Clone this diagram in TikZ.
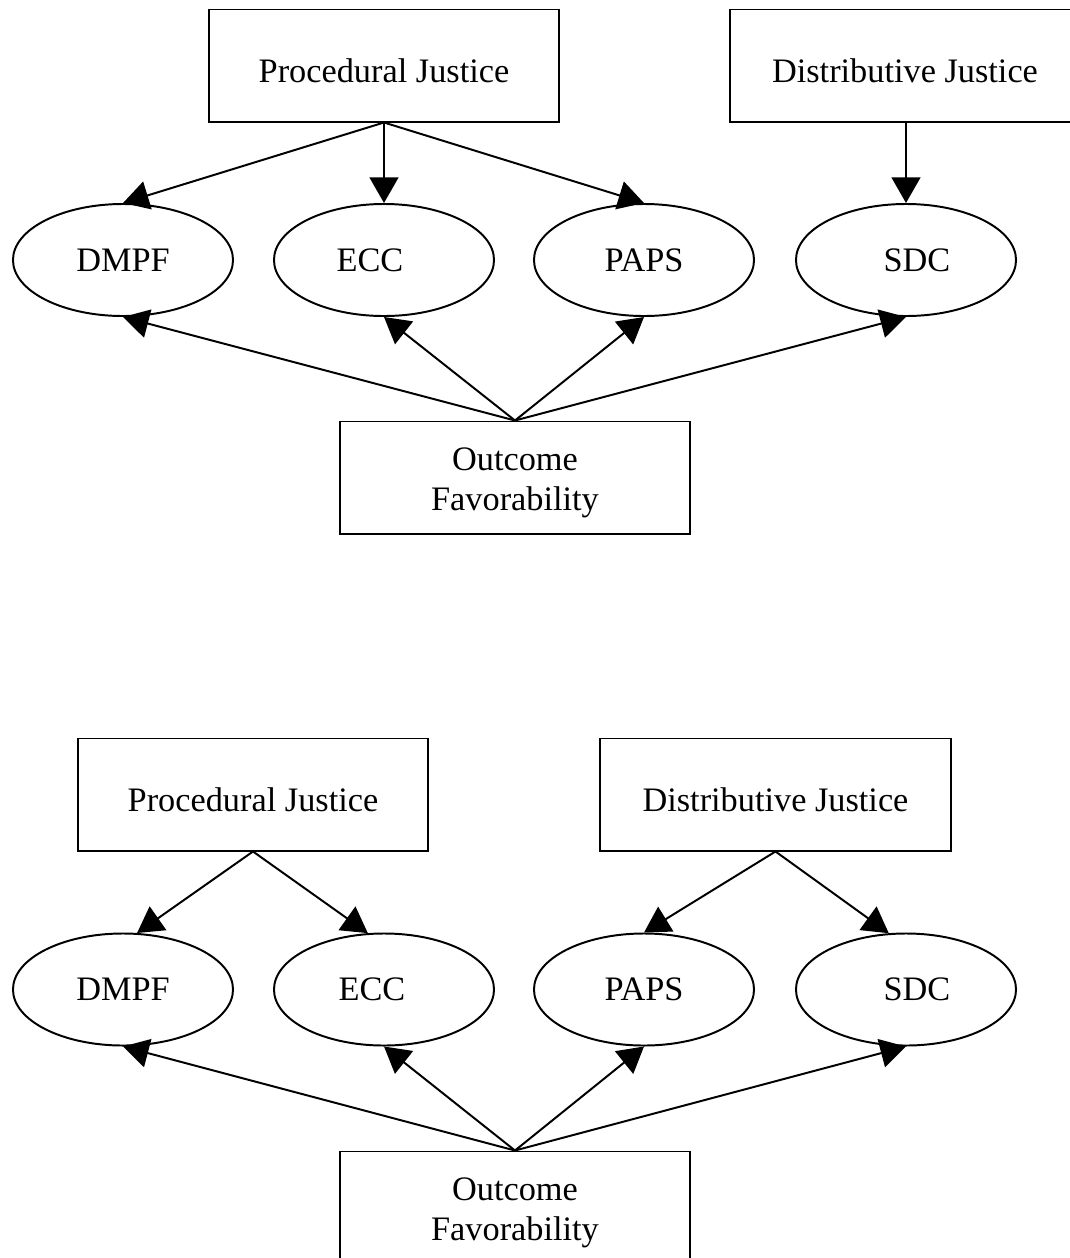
\documentclass[tikz,border=0pt]{standalone}
\usepackage{fontspec}
\setmainfont{Liberation Serif}
\usetikzlibrary{shapes.geometric,arrows.meta}

\tikzset{
  jbox/.style={draw, line width=1.4pt, minimum width=8.75cm, minimum height=2.8cm, align=center, text height=24pt, font=\fontsize{24.4}{28.5}\selectfont},
  outbox/.style={jbox, text height=52.5pt},
  facet/.style={draw, ellipse, line width=1.4pt, minimum width=5.5cm, minimum height=2.8cm, font=\fontsize{24.4}{28}\selectfont},
  link/.style={line width=1.4pt, -{Triangle[length=0.64cm, width=0.72cm]}}
}

\begin{document}
\begin{tikzpicture}[x=0.025cm, y=-0.025cm]
        \clip (0,0) rectangle (1070,1258);

        % First model: procedural justice feeds three facets
        \node[jbox] (pj1) at (384,65.5) {Procedural Justice};
        \node[jbox] (dj1) at (905,65.5) {Distributive Justice};
        \node[facet] (dmpf1) at (123,260) {DMPF};
        \node[facet] (ecc1) at (384,260) {ECC\hspace*{0.7cm}};
        \node[facet] (paps1) at (644,260) {PAPS};
        \node[facet] (sdc1) at (906,260) {\hspace*{0.55cm}SDC};
        \node[outbox] (out1) at (515,477.5) {Outcome\\Favorability};
        \draw[link] (pj1.south) -- (dmpf1.north);
        \draw[link] (pj1.south) -- (ecc1.north);
        \draw[link] (pj1.south) -- (paps1.north);
        \draw[link] (dj1.south -| sdc1.north) -- (sdc1.north);
        \foreach \f in {dmpf1, ecc1, paps1, sdc1}
            \draw[link] (out1.north) -- (\f.south);

        % Second model: each justice feeds two facets
        \node[jbox] (pj2) at (253,794.5) {Procedural Justice};
        \node[jbox] (dj2) at (775.5,794.5) {Distributive Justice};
        \node[facet] (dmpf2) at (123,989.5) {DMPF};
        \node[facet] (ecc2) at (384,989.5) {ECC\hspace*{0.6cm}};
        \node[facet] (paps2) at (644,989.5) {PAPS};
        \node[facet] (sdc2) at (906,989.5) {\hspace*{0.55cm}SDC};
        \node[outbox] (out2) at (515,1207.5) {Outcome\\Favorability};
        \draw[link] (pj2.south) -- (dmpf2.76);
        \draw[link] (pj2.south) -- (ecc2.106);
        \draw[link] (dj2.south) -- (paps2.north);
        \draw[link] (dj2.south) -- (sdc2.107);
        \foreach \f in {dmpf2, ecc2, paps2, sdc2}
            \draw[link] (out2.north) -- (\f.south);
\end{tikzpicture}
\end{document}
